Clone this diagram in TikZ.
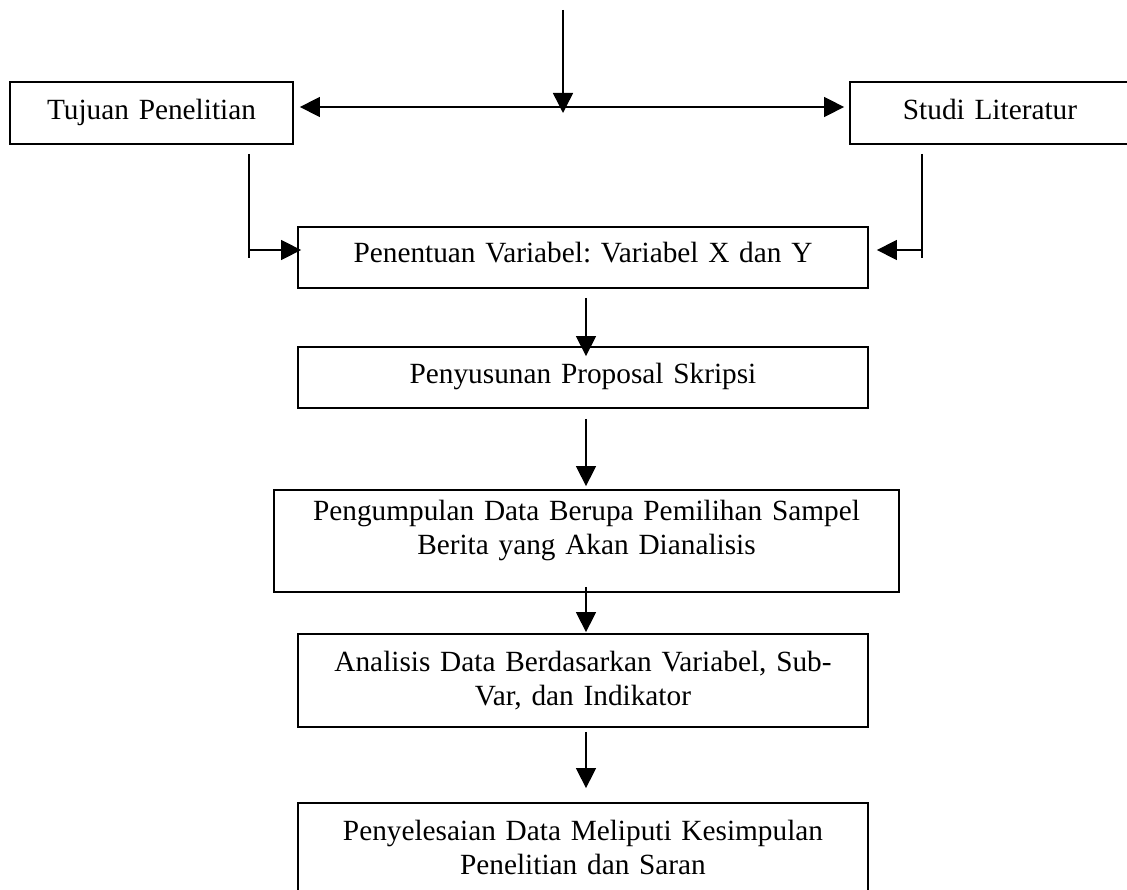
\documentclass[tikz,border=0pt]{standalone}
\usepackage{fontspec}
\setmainfont{Liberation Serif}
\frenchspacing
\usetikzlibrary{arrows.meta}
\tikzset{
  boxnode/.style={draw, line width=1.8pt, inner xsep=0pt, inner ysep=0pt, align=center,
    font=\fontsize{29.3}{34}\selectfont\frenchspacing},
  arr/.style={line width=1.5pt, -{Triangle[length=20pt,width=20pt]}},
  ln/.style={line width=1.5pt}
}
\begin{document}
\begin{tikzpicture}[x=1pt,y=-1pt]
\useasboundingbox (0,0) rectangle (1127,890);
% boxes
\node[boxnode, text width=283pt, minimum height=62pt, text height=38pt, text depth=24pt] (tujuan) at (151.5,113) {Tujuan Penelitian};
\node[boxnode, text width=280pt, minimum height=62pt, text height=38pt, text depth=24pt] (studi) at (990,113) {Studi Literatur};
\node[boxnode, text width=570pt, minimum height=61pt, text height=36pt, text depth=25pt] (penentuan) at (583,257.5) {Penentuan Variabel: Variabel X dan Y};
\node[boxnode, text width=570pt, minimum height=61pt, text height=37pt, text depth=24pt] (penyusunan) at (583,377.5) {Penyusunan Proposal Skripsi};
\node[boxnode, text width=625pt, minimum height=102pt, text height=30pt, text depth=72pt] (pengumpulan) at (586.5,541) {Pengumpulan Data Berupa Pemilihan Sampel\\Berita yang Akan Dianalisis};
\node[boxnode, text width=570pt, minimum height=93pt, text height=37pt, text depth=56pt] (analisis) at (583,680.5) {Analisis Data Berdasarkan Variabel, Sub-\\Var, dan Indikator};
\node[boxnode, text width=570pt, minimum height=92pt, text height=37pt, text depth=55pt] (penyelesaian) at (583,849) {Penyelesaian Data Meliputi Kesimpulan\\Penelitian dan Saran};
% top split
\coordinate (top) at (563,10);
\coordinate (jt) at (563,113);
\coordinate (j) at (563,107);
\draw[arr] (top) -- (jt);
\draw[arr, shorten >=6pt] (j) -- (j -| tujuan.east);
\draw[arr, shorten >=5pt] (j) -- (j -| studi.west);
% side connectors
\coordinate (lA) at (249,154);
\coordinate (lB) at (249,258);
\coordinate (lC) at (249,250);
\draw[ln] (lA) -- (lB);
\draw[arr, shorten >=-4pt] (lC) -- (lC -| penentuan.west);
\coordinate (rA) at (922,154);
\coordinate (rB) at (922,258);
\coordinate (rC) at (922,250);
\draw[ln] (rA) -- (rB);
\draw[arr, shorten >=8pt] (rC) -- (rC -| penentuan.east);
% main chain
\coordinate (ax) at (586,0);
\draw[arr, shorten <=9pt, shorten >=-10pt] (penentuan.south -| ax) -- (penyusunan.north -| ax);
\draw[arr, shorten <=10pt, shorten >=3pt] (penyusunan.south -| ax) -- (pengumpulan.north -| ax);
\draw[arr, shorten <=-6pt, shorten >=1pt] (pengumpulan.south -| ax) -- (analisis.north -| ax);
\draw[arr, shorten <=4pt, shorten >=14pt] (analisis.south -| ax) -- (penyelesaian.north -| ax);
\end{tikzpicture}
\end{document}
